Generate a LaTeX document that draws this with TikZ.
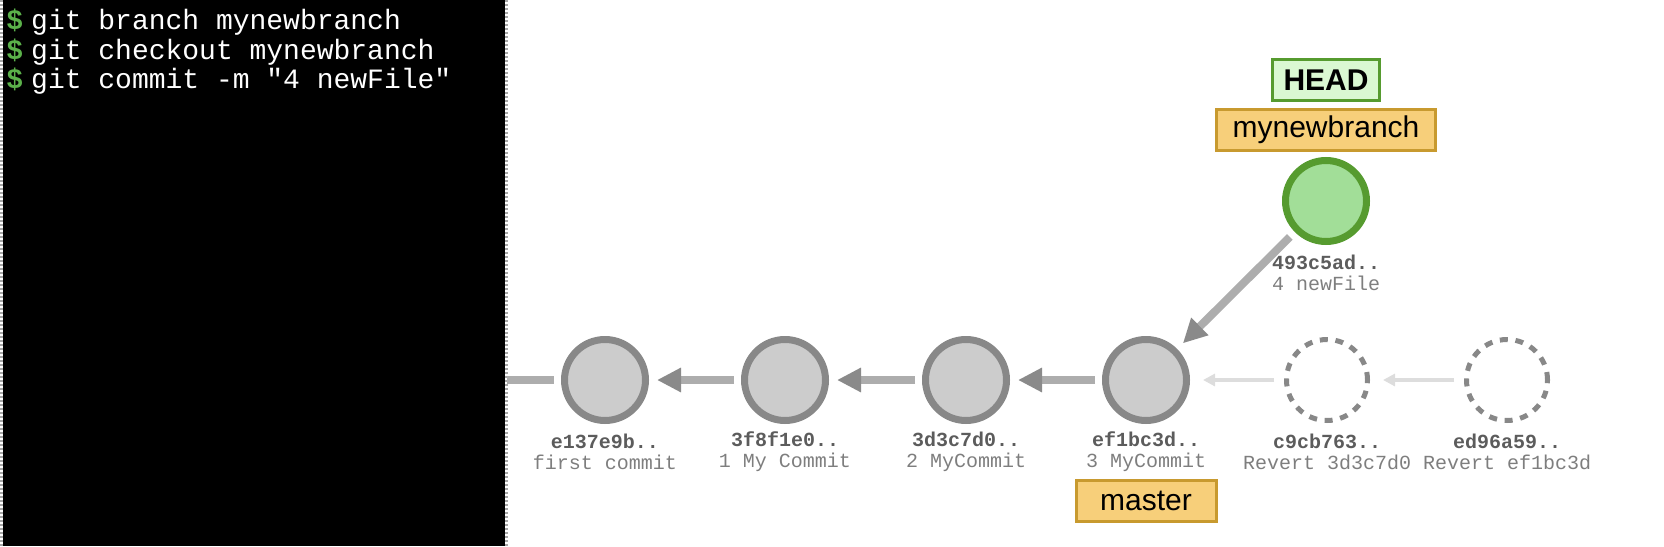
\documentclass[tikz,border=0pt]{standalone}
\usepackage{fontspec}
\setmainfont{Liberation Sans}
\setmonofont{Liberation Mono}
\usetikzlibrary{
    arrows.meta,
    positioning
}

\definecolor{termgreen}{HTML}{5BB14A}
\definecolor{commitfill}{HTML}{CCCCCC}
\definecolor{commitdraw}{HTML}{888888}
\definecolor{newfill}{HTML}{A2DE98}
\definecolor{greendraw}{HTML}{569B2F}
\definecolor{headfill}{HTML}{DAF8D2}
\definecolor{branchfill}{HTML}{F7CF7A}
\definecolor{branchdraw}{HTML}{C89A2F}
\definecolor{linkgray}{HTML}{ADADAD}
\definecolor{tipgray}{HTML}{8A8A8A}
\definecolor{ghostgray}{HTML}{DDDDDD}
\definecolor{hashgray}{HTML}{5C5C5C}
\definecolor{msggray}{HTML}{7E7E7E}

\newcommand{\gitprompt}{\textcolor{termgreen}{\textbf{\$}}\hspace{4pt}}

\tikzset{
    commit/.style={circle, draw=commitdraw, fill=commitfill, line width=3.5pt,
        minimum size=40.5pt, inner sep=0pt},
    ghost/.style={circle, draw=commitdraw, line width=2.5pt,
        dash pattern=on 4pt off 3.85pt, minimum size=40.5pt, inner sep=0pt},
    info/.style={font=\ttfamily\fontsize{10pt}{10.5pt}\selectfont, align=center,
        text=hashgray, inner sep=0pt},
    branchtag/.style={draw=branchdraw, fill=branchfill, line width=1.5pt,
        font=\fontsize{15pt}{18pt}\selectfont, minimum height=20.5pt, inner sep=0pt},
    parent/.style={draw=linkgray, line width=4pt,
        -{Triangle[length=12pt, width=11.5pt, color=tipgray]},
        shorten <=3.5pt, shorten >=4pt},
    ghostparent/.style={draw=ghostgray, line width=2pt,
        -{Triangle[length=6pt, width=6pt]}, shorten <=5pt, shorten >=6.5pt},
    termline/.style={anchor=base west, text=white, inner sep=0pt,
        font=\ttfamily\fontsize{14pt}{17pt}\selectfont}
}

\begin{document}
\begin{tikzpicture}[x=0.5pt, y=-0.5pt]
    \useasboundingbox (0,0) rectangle (1664,546);
    % terminal
    \fill[black] (3,0) rectangle (505,546);
    \draw[gray!70, line width=1.5pt, dash pattern=on 1pt off 1pt]
        (1.5,0) -- (1.5,546) (506.5,0) -- (506.5,546);
    \node[termline] (cmd1) at (6,29) {\gitprompt git branch mynewbranch};
    \node[termline] (cmd2) at (6,59) {\gitprompt git checkout mynewbranch};
    \node[termline] (cmd3) at (6,88) {\gitprompt git commit -m "4 newFile"};

    % commits
    \node[commit] (c0) at (605,380) {};
    \node[commit] (c1) at (785,380) {};
    \node[commit] (c2) at (966,380) {};
    \node[commit] (c3) at (1146,380) {};
    \node[ghost] (r1) at (1327,380) {};
    \node[ghost] (r2) at (1507,380) {};
    \node[commit, draw=greendraw, fill=newfill] (c4) at (1326,201) {};

    \node[info] (c0txt) at (605,452) {\textbf{e137e9b..}\\\textcolor{msggray}{first commit}};
    \node[info] (c1txt) at (785,452) {\textbf{3f8f1e0..}\\\textcolor{msggray}{1 My Commit}};
    \node[info] (c2txt) at (966,452) {\textbf{3d3c7d0..}\\\textcolor{msggray}{2 MyCommit}};
    \node[info] (c3txt) at (1146,452) {\textbf{ef1bc3d..}\\\textcolor{msggray}{3 MyCommit}};
    \node[info] (r1txt) at (1327,452) {\textbf{c9cb763..}\\\textcolor{msggray}{Revert 3d3c7d0}};
    \node[info] (r2txt) at (1507,452) {\textbf{ed96a59..}\\\textcolor{msggray}{Revert ef1bc3d}};
    \node[info] (c4txt) at (1326,273) {\textbf{493c5ad..}\\\textcolor{msggray}{4 newFile}};

    % refs
    \node[branchtag, minimum width=70pt] (master) at (1146,501) {master};
    \node[branchtag, minimum width=109.5pt] (newbranch) at (1326,130) {mynewbranch};
    \node[branchtag, draw=greendraw, fill=headfill, minimum width=53.5pt,
        font=\fontsize{15pt}{18pt}\selectfont\bfseries] (head) at (1326,80) {HEAD};

    \coordinate (tail) at (507,380);
    \draw[draw=linkgray, line width=4pt, shorten >=3.5pt] (tail) -- (c0);
    \draw
    (c1) edge[parent] (c0)
    (c2) edge[parent] (c1)
    (c3) edge[parent] (c2)
    (c4) edge[parent] (c3)
    (r1) edge[ghostparent] (c3)
    (r2) edge[ghostparent] (r1);
\end{tikzpicture}
\end{document}
